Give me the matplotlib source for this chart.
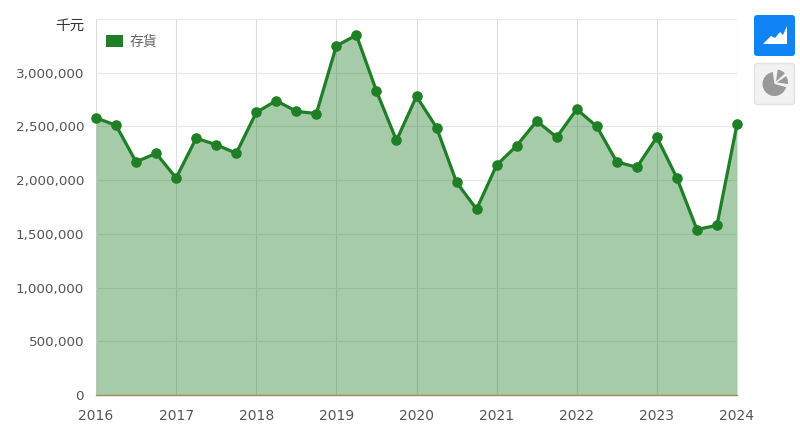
import matplotlib
matplotlib.use('Agg')
import matplotlib.pyplot as plt
from matplotlib.patches import FancyBboxPatch, Wedge, Polygon, Rectangle

plt.rcParams['font.family'] = ['DejaVu Sans', 'Noto Sans CJK TC']

years = [2016 + q / 4 for q in range(33)]
inventory = [2580000, 2510000, 2170000, 2250000,
             2020000, 2390000, 2330000, 2250000,
             2630000, 2740000, 2640000, 2620000,
             3250000, 3350000, 2830000, 2370000,
             2780000, 2490000, 1980000, 1730000,
             2140000, 2320000, 2550000, 2400000,
             2660000, 2500000, 2170000, 2120000,
             2400000, 2020000, 1540000, 1580000,
             2520000]
y_ticks = [0, 500000, 1000000, 1500000, 2000000, 2500000, 3000000, 3500000]
y_labels = ['0', '500,000', '1,000,000', '1,500,000', '2,000,000', '2,500,000', '3,000,000', '']
x_ticks = list(range(2016, 2025))
series_name = '存貨'
unit = '千元'

GREEN = '#1f7f26'
W, H = 800, 430
fig = plt.figure(figsize=(8, 4.3), dpi=100)
ax = fig.add_axes([96 / W, 1 - 395 / H, (737 - 96) / W, (395 - 19) / H])
ax.set_xlim(2016, 2024)
ax.set_ylim(0, 3500000)
ax.set_xticks(x_ticks)
ax.set_yticks(y_ticks)
ax.set_yticklabels(y_labels)
ax.grid(axis='y', color='#e8e8e8', lw=0.8)
ax.grid(axis='x', color='#dcdcdc', lw=0.8)
ax.set_axisbelow(True)
for s in ['top', 'right', 'left']:
    ax.spines[s].set_visible(False)
ax.spines['bottom'].set_color('#a08a55')
ax.spines['bottom'].set_linewidth(1)
ax.spines['bottom'].set_zorder(5)
ax.tick_params(length=0, labelcolor='#555555')
ax.tick_params(axis='x', pad=10, labelsize=10)
ax.tick_params(axis='y', pad=8.6, labelsize=9.7)

ax.fill_between(years, inventory, 0, color=GREEN, alpha=0.4, lw=0, zorder=2)
ax.plot(years, inventory, color=GREEN, lw=2.3, marker='o', ms=6.6, zorder=4, clip_on=False)

def px(x, y):
    return x / W, 1 - y / H

fig.text(*px(84.5, 26), unit, ha='right', va='center', fontsize=10.5, color='#333333',
         family=['Noto Sans CJK TC', 'DejaVu Sans'])
fig.add_artist(Rectangle(px(106, 47), 17 / W, 12 / H, transform=fig.transFigure, color=GREEN, lw=0))
fig.text(*px(130, 42), series_name, ha='left', va='center', fontsize=10, color='#666666',
         family=['Noto Sans CJK TC', 'DejaVu Sans'])

# toolbar icons, drawn in pixel space (y axis points down)
ov = fig.add_axes([0, 0, 1, 1], facecolor='none')
ov.set_xlim(0, W)
ov.set_ylim(H, 0)
ov.axis('off')
ov.add_patch(FancyBboxPatch((756, 17), 37, 37, boxstyle='round,pad=2,rounding_size=3',
                            fc='#0f84f4', ec='#0f84f4', lw=0))
ov.add_patch(Polygon([(763, 44), (771, 36), (775, 38), (780, 32), (783, 35), (787, 26), (787, 44)],
                     closed=True, fc='white', ec='none'))
ov.add_patch(FancyBboxPatch((756, 65), 37, 38, boxstyle='round,pad=1.5,rounding_size=3',
                            fc='#f2f2f2', ec='#e2e2e2', lw=1))
ov.add_patch(Wedge((774.5, 84), 12, 15, 262, fc='#999999', ec='none'))
ov.add_patch(Wedge((776, 81.5), 12, 278, 318, fc='#999999', ec='none'))
ov.add_patch(Wedge((777, 82.5), 11, 325, 8, fc='#999999', ec='none'))

fig.savefig('out.png', dpi=100)
